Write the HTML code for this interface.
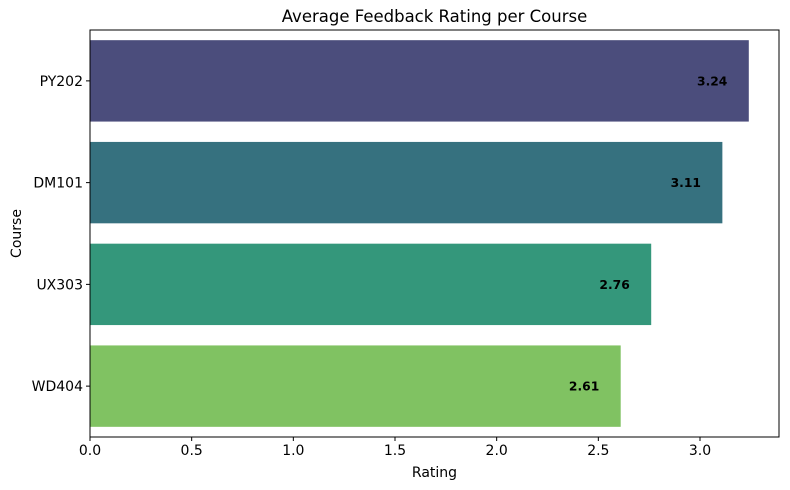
<!DOCTYPE html>
<html><head><meta charset="utf-8"><style>
body{margin:0;background:#fff;}
svg{display:block;font-family:"DejaVu Sans","Liberation Sans",sans-serif;}
</style></head><body>
<svg id="chart" width="790" height="490" xmlns="http://www.w3.org/2000/svg"></svg>
<script>
const categories = ["PY202","DM101","UX303","WD404"];
const ratings = [3.24,3.11,2.76,2.61];
const barColors = ["#4b4d7c","#36717f","#34977b","#80c262"];
const xTicks = [0,0.5,1.0,1.5,2.0,2.5,3.0];
const xTickLabels = ["0.0","0.5","1.0","1.5","2.0","2.5","3.0"];

const NS="http://www.w3.org/2000/svg";
const svg=document.getElementById('chart');
const L=90,R=779,T=30,B=437;
const pxPerUnit=(700-90)/3.0;
function xs(v){return L+v*pxPerUnit;}
const band=(B-T)/categories.length;
function yc(i){return T+band*(i+0.5);}
function mk(tag,attrs,txt){const e=document.createElementNS(NS,tag);for(const k in attrs)e.setAttribute(k,attrs[k]);if(txt!==undefined)e.textContent=txt;svg.appendChild(e);return e;}

let t=mk('text',{x:(L+R)/2,y:22,'text-anchor':'middle','font-size':16.5,fill:'#000'},'Average Feedback Rating per Course');



categories.forEach((c,i)=>{
  const h=band*0.8;
  const r=mk('rect',{x:xs(0),y:yc(i)-h/2,width:xs(ratings[i])-xs(0),height:h,fill:barColors[i]});
  
  
  const lb=mk('text',{x:xs(ratings[i]-0.18),y:yc(i)+4.5,'text-anchor':'middle','font-size':12.3,'font-weight':'bold',fill:'#000'},ratings[i].toFixed(2));
  
  
  mk('line',{x1:L,x2:L-4,y1:yc(i),y2:yc(i),stroke:'#000','stroke-width':1});
  const tl=mk('text',{x:L-7,y:yc(i)+5,'text-anchor':'end','font-size':14,fill:'#000'},c);
  
  
});

xTicks.forEach((v,i)=>{
  mk('line',{x1:xs(v),x2:xs(v),y1:B,y2:B+4,stroke:'#000','stroke-width':1});
  const tl=mk('text',{x:xs(v),y:B+18,'text-anchor':'middle','font-size':14,fill:'#000'},xTickLabels[i]);
  
  
});

const ax=mk('rect',{x:L,y:T,width:R-L,height:B-T,fill:'none',stroke:'#000','stroke-width':1});



const xl=mk('text',{x:(L+R)/2,y:477,'text-anchor':'middle','font-size':14,fill:'#000'},'Rating');


const yl=mk('text',{x:21,y:(T+B)/2,'text-anchor':'middle','font-size':14,fill:'#000',transform:'rotate(-90 21 '+((T+B)/2)+')'},'Course');


</script>
</body></html>
